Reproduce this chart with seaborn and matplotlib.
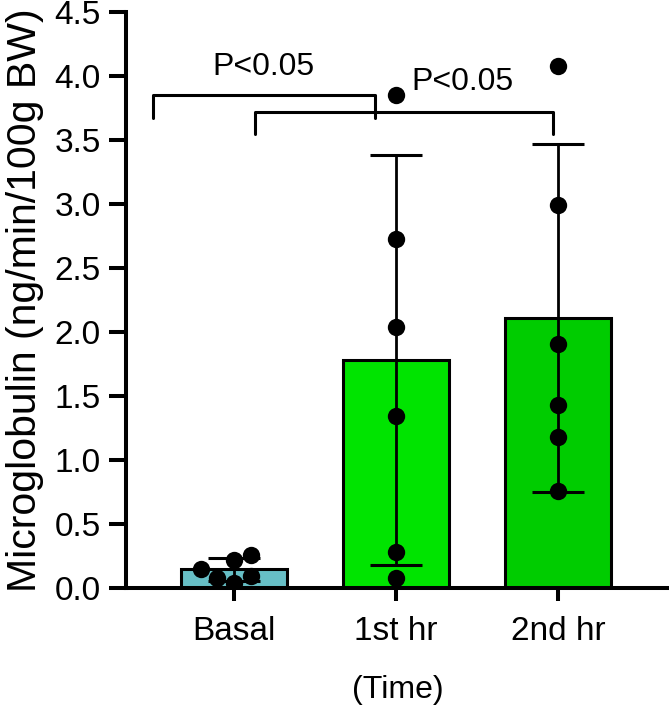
import numpy as np
import pandas as pd
import matplotlib
matplotlib.use("Agg")
import matplotlib.pyplot as plt
import seaborn as sns

# ---- data ----
categories = ["Basal", "1st hr", "2nd hr"]
bar_means = [0.145, 1.78, 2.11]
bar_sd = [0.09, 1.60, 1.36]
basal_points = [0.22, 0.04, 0.15, 0.26, 0.08, 0.09]
first_hr_points = [3.85, 2.73, 2.04, 1.34, 0.28, 0.08]
second_hr_points = [4.08, 2.99, 1.91, 1.43, 1.18, 0.76]
bar_colors = ["#67BFC6", "#00E400", "#00CC00"]
y_ticks = [0.0, 0.5, 1.0, 1.5, 2.0, 2.5, 3.0, 3.5, 4.0, 4.5]
p_labels = ["P<0.05", "P<0.05"]

sns.set_theme(style="ticks")
plt.rcParams['font.family'] = ['Liberation Sans', 'DejaVu Sans']
plt.rcParams['text.color'] = 'black'
plt.rcParams['axes.labelcolor'] = 'black'

W, H = 669, 708
fig = plt.figure(figsize=(W / 100, H / 100), dpi=100)
ax = fig.add_axes([126 / W, (H - 588) / H, 1 - 126 / W, (588 - 12) / H])

bars_df = pd.DataFrame({"Time": categories, "Mean": bar_means, "SD": bar_sd})
sns.barplot(data=bars_df, x="Time", y="Mean", hue="Time", palette=bar_colors,
            saturation=1, width=0.65, edgecolor="black", linewidth=2.2,
            legend=False, errorbar=None, ax=ax, zorder=1)

ax.errorbar(np.arange(len(categories)), bars_df["Mean"], yerr=bars_df["SD"],
            fmt="none", ecolor="black", elinewidth=2.0, capsize=18.5,
            capthick=2.2, zorder=3)

pts_df = pd.DataFrame({
    "Time": ["Basal"] * len(basal_points) + ["1st hr"] * len(first_hr_points)
            + ["2nd hr"] * len(second_hr_points),
    "Value": basal_points + first_hr_points + second_hr_points,
})
sns.swarmplot(data=pts_df, x="Time", y="Value", order=categories, color="black",
              size=12.5, ax=ax, zorder=4)

# significance brackets
lw_br = 2.2
ax.plot([-0.50, -0.50, 0.87, 0.87], [3.67, 3.85, 3.85, 3.67], color="black",
        lw=lw_br, clip_on=False, zorder=5, solid_joinstyle="round")
ax.plot([0.13, 0.13, 1.97, 1.97], [3.55, 3.72, 3.72, 3.55], color="black",
        lw=lw_br, clip_on=False, zorder=5, solid_joinstyle="round")
ax.text(0.18, 4.07, p_labels[0], ha="center", va="center", fontsize=23, color="black")
ax.text(1.41, 3.95, p_labels[1], ha="center", va="center", fontsize=23, color="black")

ax.set_ylim(0, 4.5)
ax.set_xlim(-0.667, 2.685)
ax.set_yticks(y_ticks)
ax.set_yticklabels([f"{t:.1f}" for t in y_ticks])
ax.set_ylabel("Microglobulin (ng/min/100g BW)", fontsize=29.5, labelpad=8)
ax.set_xlabel("(Time)", fontsize=23, labelpad=20)

for s in ["top", "right"]:
    ax.spines[s].set_visible(False)
for s in ["left", "bottom"]:
    ax.spines[s].set_linewidth(2.9)
    ax.spines[s].set_color("black")
ax.tick_params(axis="y", length=12, width=2.9, labelsize=24, colors="black", pad=6)
ax.tick_params(axis="x", length=9, width=2.9, labelsize=24, colors="black", pad=11)

fig.savefig("out.png", dpi=100)
